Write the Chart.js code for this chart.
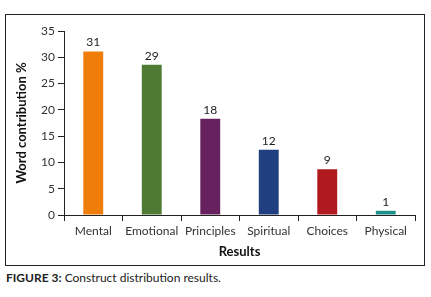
<!DOCTYPE html>
<html>
<head>
<meta charset="utf-8">
<script src="https://cdn.jsdelivr.net/npm/chart.js@4"></script>
<style>
  body { margin: 0; background: #fff; width: 431px; height: 297px; position: relative; overflow: hidden; }
  #frame { position: absolute; left: 5px; top: 14px; width: 418px; height: 250px; border: 1px solid #222; }
  #caption { position: absolute; left: 6px; top: 270px; font: 12px Lato, "Open Sans", sans-serif; color: #222; }
  #caption b { font-weight: bold; }
</style>
</head>
<body>
<div id="frame"><canvas id="chart" width="418" height="250"></canvas></div>
<div id="caption"><b>FIGURE 3:</b> Construct distribution results.</div>
<script>
// values
const categories = ["Mental", "Emotional", "Principles", "Spiritual", "Choices", "Physical"];
const wordShare = [31.1, 28.6, 18.3, 12.4, 8.7, 0.8];
const shownLabels = [31, 29, 18, 12, 9, 1];
const barColors = ["#EE7D0A", "#4E7A34", "#66215E", "#203F80", "#B0191D", "#1A918B"];
const yTicks = [0, 5, 10, 15, 20, 25, 30, 35];

const valueLabels = {
  id: "valueLabels",
  afterDatasetsDraw(chart) {
    const ctx = chart.ctx;
    const meta = chart.getDatasetMeta(0);
    ctx.save();
    ctx.font = "12px Lato, 'Open Sans', sans-serif";
    ctx.fillStyle = "#222";
    ctx.textAlign = "center";
    ctx.textBaseline = "bottom";
    meta.data.forEach((bar, i) => {
      ctx.fillText(String(shownLabels[i]), bar.x, bar.y - 3);
    });
    ctx.restore();
  }
};

const ctx = document.getElementById("chart");
new Chart(ctx, {
  type: "bar",
  data: {
    labels: categories,
    datasets: [{
      data: wordShare,
      backgroundColor: barColors,
      categoryPercentage: 1,
      barPercentage: 0.34
    }]
  },
  options: {
    responsive: false,
    animation: false,
    maintainAspectRatio: false,
    layout: { padding: { top: 16, right: 9, left: 8, bottom: 0 } },
    plugins: { legend: { display: false }, tooltip: { enabled: false } },
    scales: {
      x: {
        grid: { display: true, drawOnChartArea: false, offset: true, tickLength: 6, color: "#222" },
        border: { color: "#222", width: 1 },
        ticks: { color: "#333", font: { family: "Lato, 'Open Sans', sans-serif", size: 12 }, padding: 3, maxRotation: 0, minRotation: 0, autoSkip: false },
        title: { display: true, text: "Results", color: "#111", font: { family: "Lato, 'Open Sans', sans-serif", size: 13, weight: "bold" }, padding: { top: 4, bottom: 5 } },
        afterFit(axis) { axis.height = 50; }
      },
      y: {
        min: 0,
        max: 35,
        afterBuildTicks(axis) { axis.ticks = yTicks.map(v => ({ value: v })); },
        grid: { display: true, drawOnChartArea: false, tickLength: 6, color: "#222" },
        border: { color: "#222", width: 1 },
        ticks: { color: "#333", font: { family: "Lato, 'Open Sans', sans-serif", size: 12 }, padding: 3 },
        title: { display: true, text: "Word contribution %", color: "#111", font: { family: "Lato, 'Open Sans', sans-serif", size: 13, weight: "bold" }, padding: { top: 0, bottom: 6 } },
        afterFit(axis) { axis.width = 50; }
      }
    }
  },
  plugins: [valueLabels]
});
</script>
</body>
</html>
